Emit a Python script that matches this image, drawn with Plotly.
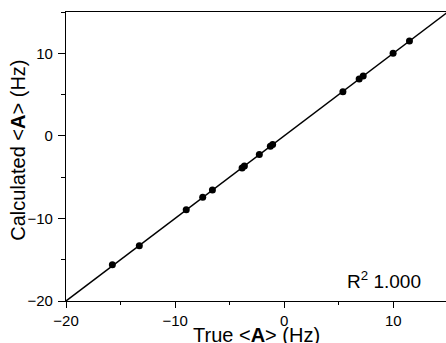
import plotly.graph_objects as go

true_a = [-15.75, -13.28, -8.98, -7.47, -6.58, -3.86, -3.65, -2.28, -1.27, -1.06, 5.38, 6.87, 7.24, 9.98, 11.48]
calc_a = [-15.6, -13.3, -8.95, -7.45, -6.55, -3.9, -3.65, -2.25, -1.25, -1.05, 5.35, 6.9, 7.25, 10.0, 11.5]
fit_x = [-20, 15]
fit_y = [-20, 15]
x_ticks = [-20, -10, 0, 10]
y_ticks = [-20, -10, 0, 10]

FONT = "Liberation Sans, Arial, sans-serif"

fig = go.Figure()
fig.add_trace(go.Scatter(x=fit_x, y=fit_y, mode="lines",
                         line=dict(color="black", width=1.5), showlegend=False))
fig.add_trace(go.Scatter(x=true_a, y=calc_a, mode="markers",
                         marker=dict(color="black", size=7), showlegend=False))

fig.update_layout(
    width=446, height=343,
    margin=dict(l=66, r=0, t=12, b=42),
    plot_bgcolor="white", paper_bgcolor="white",
    font=dict(family=FONT, size=15, color="black"),
    xaxis=dict(range=[-20, 14.83], tickvals=x_ticks, showgrid=False, zeroline=False,
               showline=True, linecolor="black", linewidth=1.2, mirror=True,
               ticks="outside", ticklen=6, tickwidth=1.2, tickcolor="black",
               minor=dict(dtick=5, ticks="outside", ticklen=3, tickwidth=1.2, tickcolor="black", showgrid=False),
               tickfont=dict(size=15)),
    yaxis=dict(range=[-20, 15], tickvals=y_ticks, showgrid=False, zeroline=False,
               showline=True, linecolor="black", linewidth=1.2,
               ticks="outside", ticklen=7, tickwidth=1.2, tickcolor="black",
               minor=dict(dtick=5, ticks="outside", ticklen=4, tickwidth=1.2, tickcolor="black", showgrid=False),
               tickfont=dict(size=15), ticklabelstandoff=2),
)

fig.add_annotation(xref="paper", yref="paper", x=0.5, y=0, yshift=-21, yanchor="top",
                   text="True &lt;<b>A</b>&gt; (Hz)", showarrow=False, font=dict(size=20))
fig.add_annotation(xref="paper", yref="paper", x=0, xshift=-48, y=0.52, textangle=-90,
                   xanchor="center", yanchor="middle",
                   text="Calculated &lt;<b>A</b>&gt; (Hz)", showarrow=False, font=dict(size=20))
fig.add_annotation(xref="x", yref="y", x=5.6, y=-17.5, xanchor="left", yanchor="middle",
                   text="R<sup>2</sup> 1.000", showarrow=False, font=dict(size=19))

fig.write_html("out.html")
